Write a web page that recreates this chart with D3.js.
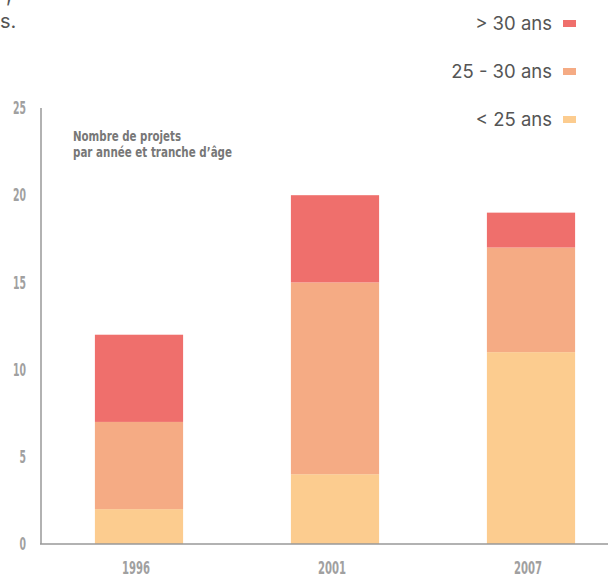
<!DOCTYPE html>
<html>
<head>
<meta charset="utf-8">
<script src="https://cdn.jsdelivr.net/npm/d3@7"></script>
<style>
  body { margin: 0; background: #fff; }
  svg { display: block; }
</style>
</head>
<body>
<div id="chart"></div>
<script>
var years = ["1996", "2001", "2007"];
var under25 = [2, 4, 11];
var from25to30 = [5, 11, 6];
var over30 = [5, 5, 2];
var seriesNames = ["< 25 ans", "25 - 30 ans", "> 30 ans"];
var seriesColors = ["#fccc8f", "#f5ab84", "#ef6f6c"];
var yTicks = [0, 5, 10, 15, 20, 25];

var width = 608, height = 574;

var svg = d3.select("#chart")
  .append("svg")
    .attr("width", width)
    .attr("height", height);

// cut-off text from the page above
svg.append("text")
    .attr("x", 6).attr("y", 2)
    .style("font-family", "Inter, 'Open Sans', sans-serif")
    .style("font-size", "20px")
    .style("fill", "#555")
    .text(",");
svg.append("text")
    .attr("x", 0).attr("y", 28)
    .style("font-family", "Inter, 'Open Sans', sans-serif")
    .style("font-size", "20px")
    .style("fill", "#555")
    .text("s.");

var table = years.map(function(y, i) {
  return { year: y, s0: under25[i], s1: from25to30[i], s2: over30[i] };
});
var stack = d3.stack().keys(["s0", "s1", "s2"]);
var layers = stack(table);

var x = d3.scaleBand()
  .domain(years)
  .range([41, 629])
  .paddingInner(0.55)
  .paddingOuter(0.275);

var y = d3.scaleLinear()
  .domain([0, 25])
  .range([544, 108]);

// bars
svg.selectAll("g.layer")
  .data(layers)
  .enter()
  .append("g")
    .attr("class", "layer")
    .attr("fill", function(d, i) { return seriesColors[i]; })
  .selectAll("rect")
  .data(function(d) { return d; })
  .enter()
  .append("rect")
    .attr("x", function(d) { return x(d.data.year); })
    .attr("width", x.bandwidth())
    .attr("y", function(d) { return y(d[1]); })
    .attr("height", function(d) { return y(d[0]) - y(d[1]); });

// axes lines
svg.append("line")
    .attr("x1", 41).attr("x2", 41)
    .attr("y1", y(25)).attr("y2", y(0))
    .style("stroke", "#999").style("stroke-width", 1.5);
svg.append("line")
    .attr("x1", 40).attr("x2", width)
    .attr("y1", y(0)).attr("y2", y(0))
    .style("stroke", "#999").style("stroke-width", 1.5);

// condensed look: squeeze the bold glyphs with textLength
var labelFont = "'DejaVu Sans', sans-serif";

svg.selectAll("text.ytick")
  .data(yTicks)
  .enter()
  .append("text")
    .attr("class", "ytick")
    .attr("x", 26)
    .attr("y", function(d) { return y(d); })
    .attr("dy", "0.36em")
    .attr("text-anchor", "end")
    .attr("textLength", function(d) { return String(d).length * 6.5; })
    .attr("lengthAdjust", "spacingAndGlyphs")
    .style("font-family", labelFont)
    .style("font-weight", "bold")
    .style("font-size", "17px")
    .style("fill", "#a0a0a0")
    .text(function(d) { return d; });

svg.selectAll("text.xtick")
  .data(years)
  .enter()
  .append("text")
    .attr("class", "xtick")
    .attr("x", function(d) { return x(d) + x.bandwidth() / 2 - 3; })
    .attr("y", 574)
    .attr("text-anchor", "middle")
    .attr("textLength", 28)
    .attr("lengthAdjust", "spacingAndGlyphs")
    .style("font-family", labelFont)
    .style("font-weight", "bold")
    .style("font-size", "17px")
    .style("fill", "#a0a0a0")
    .text(function(d) { return d; });

// chart title
var title = svg.append("text")
    .attr("x", 73)
    .attr("y", 140.5)
    .style("font-family", labelFont)
    .style("font-weight", "bold")
    .style("font-size", "14.5px")
    .style("fill", "#777");
title.append("tspan").attr("x", 73)
    .attr("textLength", 108).attr("lengthAdjust", "spacingAndGlyphs")
    .text("Nombre de projets");
title.append("tspan").attr("x", 73).attr("dy", 16.5)
    .attr("textLength", 159).attr("lengthAdjust", "spacingAndGlyphs")
    .text("par année et tranche d’âge");

// legend
var legendRows = [2, 1, 0];
var legend = svg.selectAll("g.legend")
  .data(legendRows)
  .enter()
  .append("g")
    .attr("class", "legend")
    .attr("transform", function(d, i) { return "translate(0," + (24 + i * 48) + ")"; });
legend.append("text")
    .attr("x", 552)
    .attr("dy", "0.35em")
    .attr("text-anchor", "end")
    .style("font-family", "Inter, 'Open Sans', sans-serif")
    .style("font-size", "18.5px")
    .style("fill", "#555")
    .text(function(d) { return seriesNames[d]; });
legend.append("rect")
    .attr("x", 563)
    .attr("y", -4)
    .attr("width", 13)
    .attr("height", 7)
    .attr("fill", function(d) { return seriesColors[d]; });
</script>
</body>
</html>
